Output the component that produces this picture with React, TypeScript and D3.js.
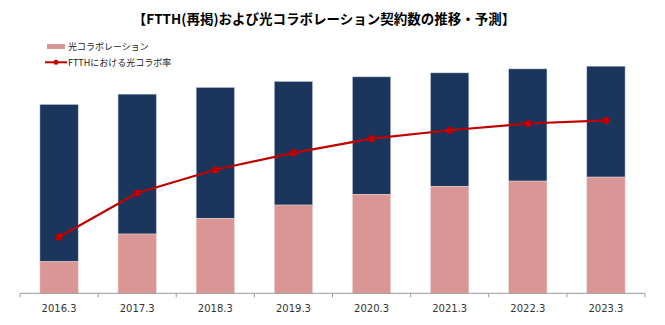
import React from "react";
import * as d3 from "d3";

const categories = ["2016.3", "2017.3", "2018.3", "2019.3", "2020.3", "2021.3", "2022.3", "2023.3"];
const ftthTotal = [2797, 2950, 3049, 3138, 3206, 3265, 3324, 3364];
const hikariCollabo = [468, 878, 1110, 1307, 1465, 1584, 1662, 1721];
const collaboRate = [16.7, 29.7, 36.6, 41.6, 45.8, 48.3, 50.3, 51.2];

const W = 665;
const H = 325;
const left = 20;
const right = 645;
const baseY = 293.3;
const topY = 57;

const NAVY = "#1b365d";
const PINK = "#d99694";
const RED = "#c00000";

export default function App() {
  const x = d3.scaleBand<string>().domain(categories).range([left, right]).paddingInner(0.51).paddingOuter(0.255);
  const y = d3.scaleLinear().domain([0, 3500]).range([baseY, topY]);
  const y2 = d3.scaleLinear().domain([0, 70]).range([baseY, topY]);
  const line = d3
    .line<number>()
    .x((_, i) => (x(categories[i]) as number) + x.bandwidth() / 2)
    .y((d) => y2(d));
  const step = (right - left) / categories.length;
  const tickXs = d3.range(categories.length + 1).map((i) => left + i * step);

  return (
    <svg width={W} height={H} style={{ position: "absolute", left: 0, top: 0 }}>
      <rect width={W} height={H} fill="#fff" />
      <text x={324} y={24} textAnchor="middle" fontFamily="'Noto Sans CJK JP', sans-serif" fontWeight="bold" fontSize={13.5} fill="#000">
        【FTTH(再掲)および光コラボレーション契約数の推移・予測】
      </text>
      {/* legend */}
      <rect x={47} y={44} width={18} height={5} fill={PINK} />
      <text x={68} y={50} fontFamily="'Noto Sans CJK JP', sans-serif" fontSize={9} fill="#222">光コラボレーション</text>
      <line x1={45} x2={67} y1={62.3} y2={62.3} stroke={RED} strokeWidth={2} />
      <circle cx={56} cy={62.3} r={2.5} fill={RED} />
      <text x={68} y={65.5} fontFamily="'Noto Sans CJK JP', sans-serif" fontSize={9} fill="#222">FTTHにおける光コラボ率</text>
      {/* bars */}
      {categories.map((c, i) => (
        <g key={c}>
          <rect x={x(c)} y={y(ftthTotal[i])} width={x.bandwidth()} height={y(hikariCollabo[i]) - y(ftthTotal[i])} fill={NAVY} stroke="#c9d2dd" strokeWidth={0.5} />
          <rect x={x(c)} y={y(hikariCollabo[i])} width={x.bandwidth()} height={baseY - y(hikariCollabo[i])} fill={PINK} stroke="#efd5d4" strokeWidth={0.5} />
        </g>
      ))}
      {/* axis */}
      <line x1={left} x2={right} y1={baseY} y2={baseY} stroke="#9a9a9a" strokeWidth={1} />
      {tickXs.map((tx, i) => (
        <line key={i} x1={tx} x2={tx} y1={baseY} y2={baseY + 4} stroke="#9a9a9a" strokeWidth={1} />
      ))}
      {categories.map((c) => (
        <text key={c} x={(x(c) as number) + x.bandwidth() / 2} y={311.5} textAnchor="middle" fontFamily="'DejaVu Sans', Verdana, sans-serif" fontSize={10} fill="#333">
          {c}
        </text>
      ))}
      {/* line */}
      <path d={line(collaboRate) as string} fill="none" stroke={RED} strokeWidth={2.2} />
      {collaboRate.map((r, i) => (
        <circle key={i} cx={(x(categories[i]) as number) + x.bandwidth() / 2} cy={y2(r)} r={3.6} fill={RED} />
      ))}
    </svg>
  );
}
